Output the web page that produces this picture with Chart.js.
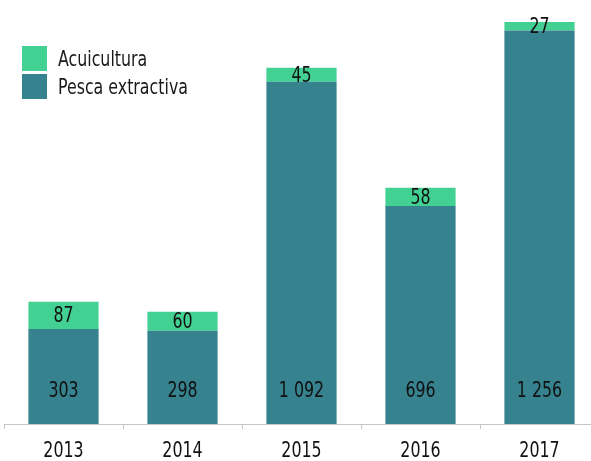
<!DOCTYPE html>
<html>
<head>
<meta charset="utf-8">
<script src="https://cdn.jsdelivr.net/npm/chart.js@4.4.1/dist/chart.umd.min.js"></script>
<style>
  html, body { margin: 0; padding: 0; background: #fff; overflow: hidden; }
  #wrap { position: relative; width: 600px; height: 461px; }
  #legend { position: absolute; left: 22px; top: 44px; font-family: "DejaVu Sans Condensed", "DejaVu Sans", sans-serif; font-size: 22px; color: #1a1a1a; }
  #legend .item { display: flex; align-items: center; height: 28px; }
  #legend .box { width: 25px; height: 25px; margin-right: 11px; flex: none; }
  #legend .txt { display: inline-block; transform: scaleX(0.8); transform-origin: left center; white-space: nowrap; }
</style>
</head>
<body>
<div id="wrap">
  <canvas id="chart" width="600" height="461"></canvas>
  <div id="legend"></div>
</div>
<script>
const years = ['2013', '2014', '2015', '2016', '2017'];
const pesca = [303, 298, 1092, 696, 1256];
const acuicultura = [87, 60, 45, 58, 27];
const pescaLabels = ['303', '298', '1 092', '696', '1 256'];
const acuiLabels = ['87', '60', '45', '58', '27'];

const FONT = '"DejaVu Sans Condensed", "DejaVu Sans", sans-serif';
const GREEN = '#43d093';
const TEAL = '#36828f';
const SQUEEZE = 0.8;   // the original uses a condensed face

function narrowText(ctx, text, x, y) {
  ctx.save();
  ctx.translate(x, y);
  ctx.scale(SQUEEZE, 1);
  ctx.fillText(text, 0, 0);
  ctx.restore();
}

// numbers on the bars + year labels under the axis
const barLabels = {
  id: 'barLabels',
  afterDatasetsDraw(chart) {
    const ctx = chart.ctx;
    ctx.save();
    ctx.font = '22px ' + FONT;
    ctx.fillStyle = '#111';
    ctx.textAlign = 'center';
    ctx.textBaseline = 'middle';
    const bottom = chart.chartArea.bottom;
    chart.getDatasetMeta(0).data.forEach((bar, i) => {
      narrowText(ctx, pescaLabels[i], bar.x, bottom - 33);
    });
    chart.getDatasetMeta(1).data.forEach((bar, i) => {
      narrowText(ctx, acuiLabels[i], bar.x, (bar.y + bar.base) / 2 + 1);
    });
    const xs = chart.scales.x;
    xs.ticks.forEach((t, i) => {
      narrowText(ctx, chart.data.labels[i], xs.getPixelForTick(i), bottom + 27);
    });
    ctx.restore();
  }
};

const chart = new Chart(document.getElementById('chart'), {
  type: 'bar',
  data: {
    labels: years,
    datasets: [
      { label: 'Pesca extractiva', data: pesca, backgroundColor: TEAL },
      { label: 'Acuicultura', data: acuicultura, backgroundColor: GREEN }
    ]
  },
  options: {
    responsive: false,
    animation: false,
    categoryPercentage: 1,
    barPercentage: 0.59,
    layout: { padding: { left: 4, right: 1, top: 1, bottom: 0 } },
    plugins: {
      legend: { display: false },
      tooltip: { enabled: false }
    },
    scales: {
      x: {
        stacked: true,
        border: { display: true, color: '#c6c6c6', width: 1 },
        grid: { display: true, drawOnChartArea: false, drawTicks: true, tickLength: 5, color: '#c6c6c6' },
        ticks: { display: false },
        afterFit(scale) { scale.height = 37; }
      },
      y: {
        stacked: true,
        display: false,
        min: 0,
        max: 1350
      }
    }
  },
  plugins: [barLabels]
});

// legend, top item first
const legend = document.getElementById('legend');
[chart.data.datasets[1], chart.data.datasets[0]].forEach(ds => {
  const item = document.createElement('div');
  item.className = 'item';
  item.innerHTML = '<span class="box" style="background:' + ds.backgroundColor + '"></span><span class="txt">' + ds.label + '</span>';
  legend.appendChild(item);
});
</script>
</body>
</html>
